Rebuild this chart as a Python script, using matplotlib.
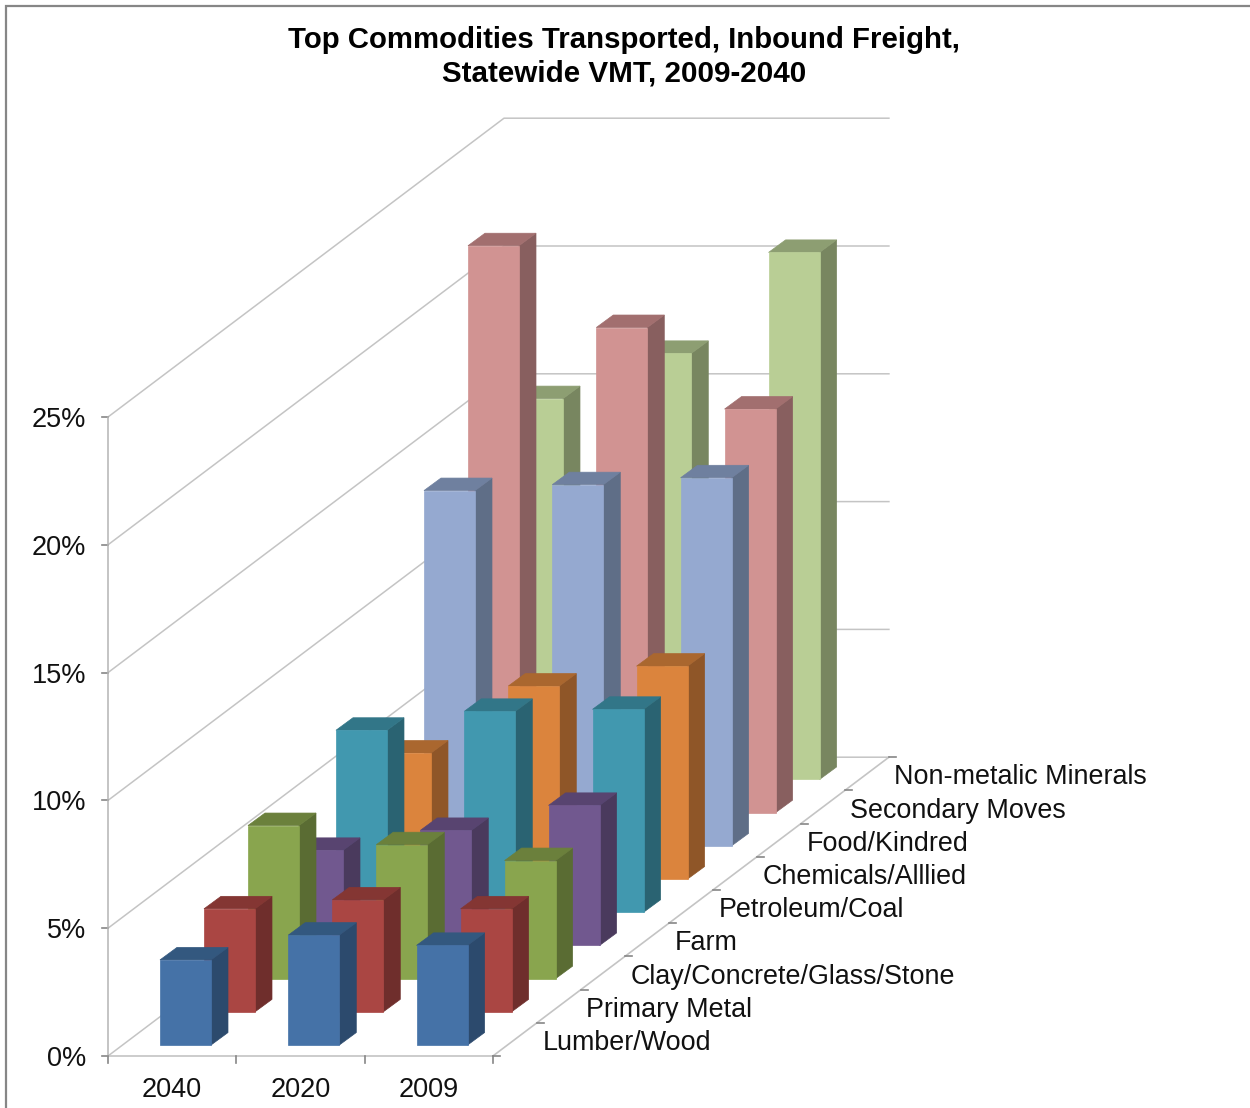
import matplotlib
matplotlib.use("Agg")
import matplotlib.pyplot as plt
from matplotlib.patches import Polygon

plt.rcParams['font.family'] = ['Liberation Sans', 'DejaVu Sans']

# values in percent, one list per commodity, order 2040, 2020, 2009
years = ['2040', '2020', '2009']
commodities = ['Lumber/Wood', 'Primary Metal', 'Clay/Concrete/Glass/Stone', 'Farm', 'Petroleum/Coal',
               'Chemicals/Alllied', 'Food/Kindred', 'Secondary Moves', 'Non-metalic Minerals']
lumber = [3.33, 4.30, 3.90]
metal = [4.03, 4.38, 4.03]
clay = [5.99, 5.24, 4.62]
farm = [3.72, 4.50, 5.48]
petroleum = [7.12, 7.86, 7.94]
chemicals = [4.93, 7.55, 8.33]
food = [13.90, 14.13, 14.40]
secondary = [22.18, 18.98, 15.79]
minerals = [14.90, 16.67, 20.62]
values = [lumber, metal, clay, farm, petroleum, chemicals, food, secondary, minerals]
y_ticks = [0, 5, 10, 15, 20, 25]

# front, side, top colours of each commodity
colors = [('#4572A7', '#2C4A6D', '#33587F'),
          ('#AA4643', '#6F2E2C', '#843633'),
          ('#89A54E', '#5A6C33', '#6B803C'),
          ('#71588F', '#4A3A5D', '#584470'),
          ('#4198AF', '#2A6372', '#327688'),
          ('#DB843D', '#8F5628', '#AA672F'),
          ('#95A9D0', '#5F6E87', '#6F809F'),
          ('#D19392', '#885F5F', '#A26F6F'),
          ('#B9CE95', '#788660', '#8D9E72')]

# oblique projection, everything ends up in image pixels
X0, Y0 = 108, 1056
COL_W = 128.3
DEPTH_X, DEPTH_Y = 44.0, 33.2
PER_PCT = 25.56
BAR_W = 51
BAR_DX, BAR_DY = 17, 12.5


def project(col, depth, val):
    x = X0 + col * COL_W + depth * DEPTH_X
    y = Y0 - depth * DEPTH_Y - val * PER_PCT
    return x, y


fig = plt.figure(figsize=(12.5, 11.08), dpi=100)
ax = fig.add_axes([0, 0, 1, 1])
ax.set_xlim(0, 1250)
ax.set_ylim(1108, 0)
ax.axis('off')

# chart frame
ax.plot([6, 6, 1250], [1108, 6, 6], color='#868686', lw=1.6, solid_joinstyle='miter')

# walls and gridlines
n_depth = len(commodities)
n_col = len(years)
for t in y_ticks:
    a = project(0, 0, t)
    b = project(0, n_depth, t)
    c = project(n_col, n_depth, t)
    ax.plot([a[0], b[0], c[0]], [a[1], b[1], c[1]], color='#c4c4c4', lw=1.1, zorder=1)
    ax.plot([a[0] - 6, a[0]], [a[1], a[1]], color='#868686', lw=1.2, zorder=1)
    ax.text(a[0] - 22, a[1] + 3, f'{t}%', ha='right', va='center', fontsize=19.5, color='#111111')

top = project(0, 0, 25)
ax.plot([top[0], top[0]], [top[1], Y0], color='#b4b4b4', lw=1.1, zorder=1)

# floor edges and ticks
a = project(0, 0, 0)
b = project(n_col, 0, 0)
c = project(n_col, n_depth, 0)
ax.plot([a[0], b[0], c[0]], [a[1], b[1], c[1]], color='#c4c4c4', lw=1.2, zorder=1)
for i in range(n_col + 1):
    p = project(i, 0, 0)
    ax.plot([p[0], p[0]], [p[1], p[1] + 7], color='#868686', lw=1.2, zorder=1)
for i, year in enumerate(years):
    p = project(i + 0.5, 0, 0)
    ax.text(p[0], 1090, year, ha='center', va='center', fontsize=19.5, color='#111111')
for k in range(n_depth + 1):
    p = project(n_col, k, 0)
    ax.plot([p[0], p[0] + 7], [p[1], p[1]], color='#868686', lw=1.2, zorder=1)
for k, name in enumerate(commodities):
    p = project(n_col, k, 0)
    ax.text(p[0] + 49.5, p[1] - 13, name, ha='left', va='center', fontsize=19.4, color='#111111')

# bars, back row first so the front rows cover them
for k in range(n_depth - 1, -1, -1):
    front, side, cap = colors[k]
    for i in range(n_col):
        val = values[k][i]
        x, y0 = project(i + 0.292, k + 0.33, 0)
        y1 = y0 - val * PER_PCT
        x2 = x + BAR_W
        ax.add_patch(Polygon([(x2, y0), (x2 + BAR_DX, y0 - BAR_DY), (x2 + BAR_DX, y1 - BAR_DY), (x2, y1)],
                             facecolor=side, edgecolor=side, lw=0.5, zorder=2 + (n_depth - k)))
        ax.add_patch(Polygon([(x, y1), (x2, y1), (x2 + BAR_DX, y1 - BAR_DY), (x + BAR_DX, y1 - BAR_DY)],
                             facecolor=cap, edgecolor=cap, lw=0.5, zorder=2 + (n_depth - k)))
        ax.add_patch(Polygon([(x, y0), (x2, y0), (x2, y1), (x, y1)],
                             facecolor=front, edgecolor=front, lw=0.5, zorder=2 + (n_depth - k)))

ax.text(624, 40, 'Top Commodities Transported, Inbound Freight,', ha='center', va='center',
        fontsize=21.2, fontweight='bold', color='black')
ax.text(624.5, 73, 'Statewide VMT, 2009-2040', ha='center', va='center',
        fontsize=21.3, fontweight='bold', color='black')

fig.savefig('out.png', dpi=100, facecolor='white')
